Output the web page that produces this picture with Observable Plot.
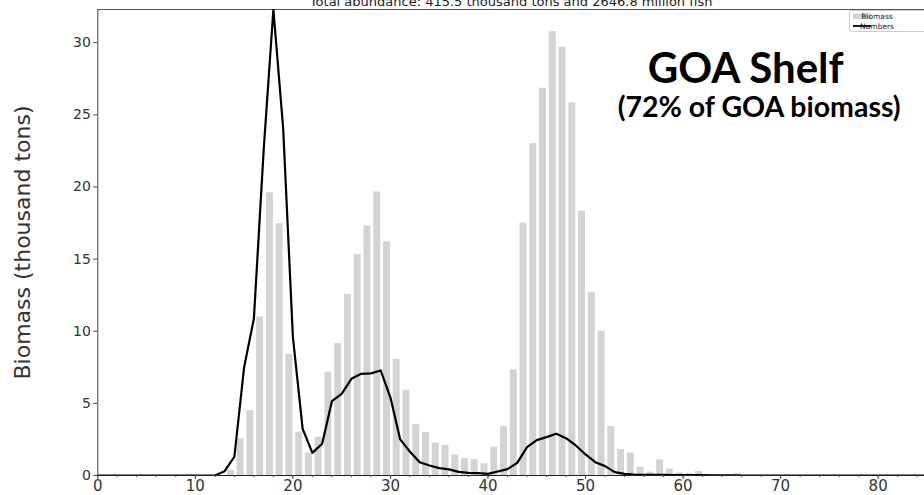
<!DOCTYPE html>
<html>
<head>
<meta charset="utf-8">
<script src="https://cdn.jsdelivr.net/npm/d3@7"></script>
<script src="https://cdn.jsdelivr.net/npm/@observablehq/plot@0.6"></script>
<style>
  body { margin: 0; background: #fff; }
  #chart svg { display: block; }
</style>
</head>
<body>
<div id="chart"></div>
<script>
// ---- data ----
const barLengths = d3.range(1, 86);
const biomass = [
  0,0,0,0,0,0,0,0,0,0,0,0,0,
  0.35,2.54,4.5,11.0,19.6,17.45,8.4,3.0,1.55,2.65,
  7.16,9.15,12.54,15.3,17.3,19.65,16.2,8.04,5.9,3.55,
  2.98,2.25,2.08,1.43,1.17,1.1,0.81,1.96,3.4,7.32,
  17.5,23.0,26.84,30.77,29.68,25.83,18.32,12.7,10.0,3.4,
  1.8,1.55,0.58,0.23,1.09,0.45,0.18,0.14,0.28,0.05,
  0.04,0.05,0.14,0.02,0.02,0.01,0.01,0.01,0,0,
  0,0,0,0,0,0,0,0,0,0,0,0
];
const lineLengths = d3.range(0, 86);
const numbers = [
  0,0,0,0,0,0,0,0,0,0,0,0,0,
  0.3,1.3,7.5,10.86,22.5,32.3,24.1,9.6,3.23,1.57,
  2.2,5.15,5.66,6.7,7.05,7.08,7.28,5.4,2.5,1.65,
  0.92,0.69,0.51,0.42,0.25,0.18,0.16,0.11,0.28,0.44,
  0.88,1.96,2.45,2.66,2.89,2.59,2.08,1.46,0.92,0.65,
  0.23,0.11,0.07,0.05,0.04,0.04,0.03,0.02,0.02,0.02,
  0.01,0.01,0.01,0,0,0,0,0,0,0,0,0,0,0,0,0,0,0,0,0,0,0,0
];
const xTicks = [0, 10, 20, 30, 40, 50, 60, 70, 80];
const xMinorTicks = d3.range(0, 86, 2);
const yTicks = [0, 5, 10, 15, 20, 25, 30];
const xMax = 84.75;
const yMax = 32.3;
const titleText = "Total abundance: 415.5 thousand tons and 2646.8 million fish";
const yLabel = "Biomass (thousand tons)";
const regionTitle = "GOA Shelf";
const regionSub = "(72% of GOA biomass)";
const legendItems = ["Biomass", "Numbers"];

const bars = barLengths.map((len, i) => ({len, biomass: biomass[i]}));
const line = lineLengths.map((len, i) => ({len, numbers: numbers[i]}));

const chart = Plot.plot({
  width: 924,
  height: 495,
  marginLeft: 97.3,
  marginRight: 0,
  marginTop: 9,
  marginBottom: 20,
  style: {fontFamily: "DejaVu Sans", background: "white", color: "#333"},
  x: {domain: [0, xMax], label: null},
  y: {domain: [0, yMax], label: null},
  marks: [
    Plot.rectY(bars, {x1: d => d.len - 1, x2: "len", y: "biomass", fill: "#d3d3d3", insetLeft: 2.8}),
    Plot.ruleX([0], {stroke: "#444", strokeWidth: 1}),
    Plot.ruleY([yMax], {stroke: "#555", strokeWidth: 1.2}),
    Plot.ruleY([0], {stroke: "#222", strokeWidth: 1}),
    Plot.line(line, {x: "len", y: "numbers", stroke: "black", strokeWidth: 2.2, clip: true}),
    Plot.axisX({ticks: xMinorTicks, tickSize: 2, tickFormat: () => "", label: null, stroke: "#444"}),
    Plot.axisX({ticks: xTicks, tickSize: 4, tickPadding: 1, fontSize: 15, label: null, stroke: "#444", fill: "#333"}),
    Plot.axisY({ticks: yTicks, tickSize: 4, tickPadding: 3, fontSize: 14, label: null, stroke: "#444", fill: "#333"}),
    Plot.text([yLabel], {text: d => d, frameAnchor: "left", dx: -75, rotate: -90, textAnchor: "middle", fontSize: 22, fill: "#333"}),
    Plot.text([titleText], {text: d => d, frameAnchor: "top", dy: -3.5, lineAnchor: "bottom", fontSize: 13, fill: "#222"}),
    Plot.text([regionTitle], {text: d => d, frameAnchor: "top", dx: 234.5, dy: 73, lineAnchor: "bottom", fontSize: 42, fontWeight: "bold", fontFamily: "Lato", fill: "#000"}),
    Plot.text([regionSub], {text: d => d, frameAnchor: "top", dx: 248, dy: 107, lineAnchor: "bottom", fontSize: 28.5, fontWeight: "bold", fontFamily: "Lato", fill: "#000"})
  ]
});

// legend (inside the axes, top right)
const svg = d3.select(chart);
const lg = svg.append("g").attr("font-family", "DejaVu Sans").attr("font-size", 7.5);
lg.append("rect").attr("x", 849.5).attr("y", 10.5).attr("width", 78).attr("height", 21).attr("rx", 2)
  .attr("fill", "white").attr("fill-opacity", 0.8).attr("stroke", "#ccc");
lg.append("rect").attr("x", 853).attr("y", 13.5).attr("width", 18).attr("height", 5.5).attr("fill", "#d3d3d3");
lg.append("line").attr("x1", 853).attr("x2", 871).attr("y1", 26).attr("y2", 26).attr("stroke", "black").attr("stroke-width", 1.8);
lg.selectAll("text.lgt").data(legendItems).join("text").attr("class", "lgt")
  .attr("x", 877).attr("y", (d, i) => 19 + i * 9.8).attr("fill", "#222").text(d => d);

document.getElementById("chart").appendChild(chart);
</script>
</body>
</html>
